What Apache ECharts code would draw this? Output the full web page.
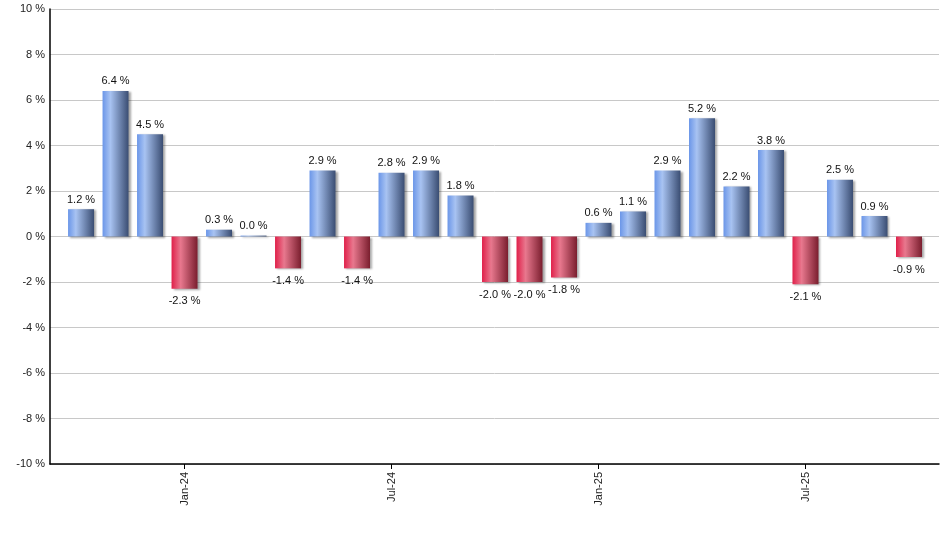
<!DOCTYPE html>
<html><head><meta charset="utf-8">
<script src="https://cdn.jsdelivr.net/npm/echarts@6/dist/echarts.min.js"></script>
<style>html,body{margin:0;padding:0;background:#fff}#c{width:940px;height:550px}</style>
</head><body><div id="c"></div>
<script>
var months = ['Oct-23','Nov-23','Dec-23','Jan-24','Feb-24','Mar-24','Apr-24','May-24','Jun-24','Jul-24','Aug-24','Sep-24','Oct-24','Nov-24','Dec-24','Jan-25','Feb-25','Mar-25','Apr-25','May-25','Jun-25','Jul-25','Aug-25','Sep-25','Oct-25'];
var returns = [1.2, 6.4, 4.5, -2.3, 0.3, 0.04, -1.4, 2.9, -1.4, 2.8, 2.9, 1.8, -2.0, -2.0, -1.8, 0.6, 1.1, 2.9, 5.2, 2.2, 3.8, -2.1, 2.5, 0.9, -0.9];
var shownTicks = ['Jan-24','Jul-24','Jan-25','Jul-25'];

var blue = new echarts.graphic.LinearGradient(0,0,1,0,[
  {offset:0,color:'#6b96e8'},{offset:0.3,color:'#a8c3f2'},{offset:1,color:'#3a4d72'}]);
var red = new echarts.graphic.LinearGradient(0,0,1,0,[
  {offset:0,color:'#e0204a'},{offset:0.35,color:'#e8788e'},{offset:1,color:'#7a1e2e'}]);

var data = returns.map(function(v,i){
  return {value:[i,v], itemStyle:{color: v>=0?blue:red},
    label:{position: v>=0?'top':'bottom', distance: v>=0?4:7}};
});
var tickIdx = shownTicks.map(function(m){return months.indexOf(m);});

var chart = echarts.init(document.getElementById('c'));
chart.setOption({
  animation:false,
  grid:{left:50,right:1,top:9,bottom:86,containLabel:false},
  xAxis:{type:'value',min:-0.9,max:24.87,
    axisLine:{show:true,onZero:false,lineStyle:{color:'#000',width:1.5}},
    splitLine:{show:false},
    axisTick:{show:true,customValues:tickIdx,length:5,lineStyle:{color:'#000'}},
    axisLabel:{customValues:tickIdx,rotate:90,color:'#222',fontFamily:'Liberation Sans, Arial',fontSize:11,margin:8,
      formatter:function(v){return months[Math.round(v)];}}
  },
  yAxis:{type:'value',min:-10,max:10,interval:2,
    axisLine:{show:true,onZero:false,lineStyle:{color:'#000',width:1.5}},
    axisTick:{show:false},
    splitLine:{lineStyle:{color:'#c8c8c8',width:1}},
    axisLabel:{color:'#222',fontFamily:'Liberation Sans, Arial',fontSize:11,margin:5,
      formatter:function(v){return v+' %';}}
  },
  series:[{type:'bar',barWidth:26,data:data,
    itemStyle:{shadowColor:'rgba(0,0,0,0.35)',shadowOffsetX:2,shadowOffsetY:1,shadowBlur:2},
    label:{show:true,color:'#111',fontFamily:'Liberation Sans, Arial',fontSize:11,
      formatter:function(p){return p.value[1].toFixed(1)+' %';}}
  }]
});
</script></body></html>
